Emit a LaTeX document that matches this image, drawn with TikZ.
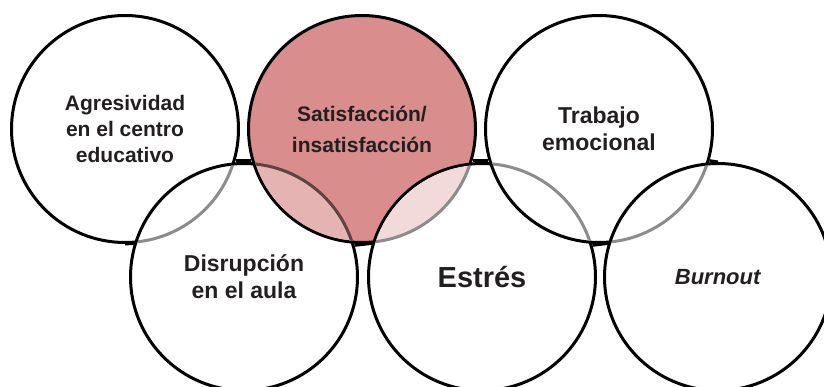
\documentclass[tikz,border=0pt]{standalone}
\usepackage{fontspec}
\setmainfont{Liberation Sans}
\usetikzlibrary{positioning}
\definecolor{rosa}{RGB}{217,141,141}
\definecolor{rosaclaro}{RGB}{229,180,178}
\definecolor{rosapalido}{RGB}{242,218,218}
\definecolor{marron}{RGB}{95,66,66}
\definecolor{gris}{RGB}{140,140,140}
\definecolor{texto}{RGB}{35,31,32}
\begin{document}
\begin{tikzpicture}[x=1pt,y=1pt,line width=3pt,node distance=7pt,
  circulo/.style={draw,circle,minimum size=227pt,inner sep=0pt,fill=white,text=texto,align=center,font=\bfseries\fontsize{21}{26}\selectfont},
  grande/.style={font=\bfseries\fontsize{23}{27}\selectfont}]
  \useasboundingbox (0,0) rectangle (824,-387);
  % fila de arriba y fila de abajo, en orden de dibujo
  \node[circulo] (agr) at (125,-129) {Agresividad\\en el centro\\educativo};
  \node[circulo,grande] (dis) at (244,-277) {Disrupción\\en el aula};
  \begin{scope}
    \clip (dis.center) circle[radius=112];
    \draw[gris] (agr.center) circle[radius=113.5];
  \end{scope}
  \node[circulo,fill=rosa,right=of agr] (sat) {Satisfacción/\\[5pt]insatisfacción};
  \begin{scope}
    \clip (sat.center) circle[radius=112];
    \draw[marron,fill=rosaclaro] (dis.center) circle[radius=113.5];
  \end{scope}
  \node[circulo,right=8pt of dis,font=\bfseries\fontsize{29}{34}\selectfont] (est) {Estrés};
  \begin{scope}
    \clip (est.center) circle[radius=112];
    \draw[gris,fill=rosapalido] (sat.center) circle[radius=113.5];
  \end{scope}
  \node[circulo,grande,right=of sat] (tra) {Trabajo\\emocional};
  \begin{scope}
    \clip (tra.center) circle[radius=112];
    \draw[gris] (est.center) circle[radius=113.5];
  \end{scope}
  \node[circulo,right=6pt of est,font=\bfseries\fontsize{22}{26}\selectfont] (bur) {\textit{Burnout}};
  \begin{scope}
    \clip (bur.center) circle[radius=112];
    \draw[gris] (tra.center) circle[radius=113.5];
  \end{scope}
  % trazos horizontales
  \draw (agr.-16.7) -- (sat.196.7);
  \draw (sat.-16.7) -- (tra.196.7);
  \draw (tra.-16.7) -- (bur.north);
  \draw (agr.south) -- (dis.163.3);
  \draw (dis.16.7) -- (est.163.3);
  \draw (est.16.7) -- (bur.163.3);
\end{tikzpicture}
\end{document}
